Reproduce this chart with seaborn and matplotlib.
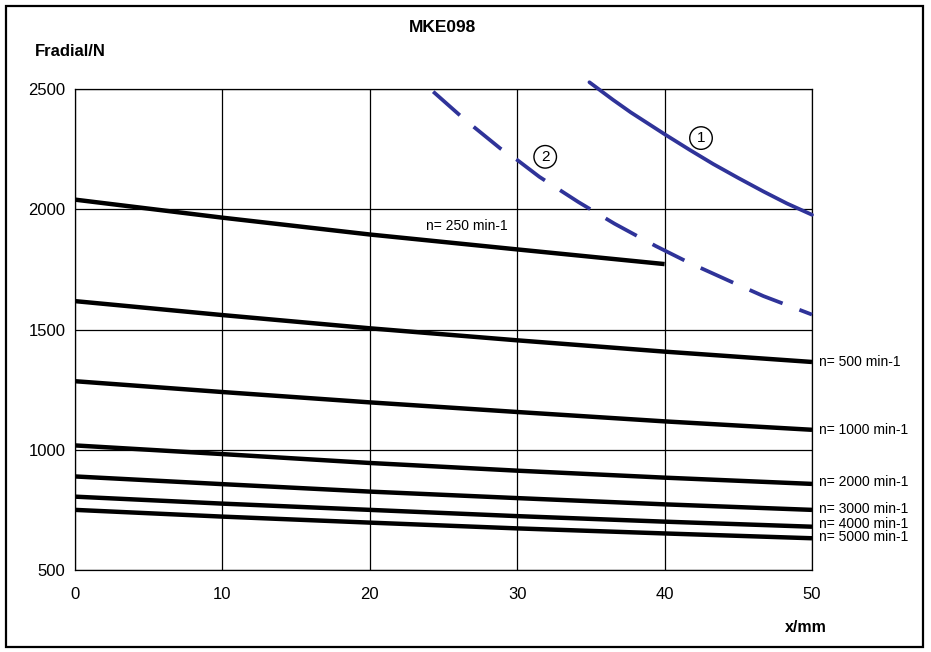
import matplotlib
matplotlib.use("Agg")
import matplotlib.pyplot as plt
import seaborn as sns
import pandas as pd
from matplotlib.patches import Rectangle

# ---- data ----
x_pos = [0, 10, 20, 30, 40, 50]
n250 = [2040, 1965, 1895, 1833, 1772]          # ends at x = 40
n500 = [1618, 1560, 1505, 1455, 1408, 1365]
n1000 = [1285, 1240, 1197, 1157, 1118, 1083]
n2000 = [1018, 982, 945, 913, 884, 858]
n3000 = [889, 857, 826, 799, 773, 750]
n4000 = [805, 776, 750, 724, 701, 680]
n5000 = [750, 722, 697, 673, 652, 632]

limit1_x = [34.9, 36.5, 37.7, 40.0, 41.7, 43.3, 45.0, 46.7, 48.3, 50.0]
limit1_y = [2528, 2455, 2403, 2312, 2247, 2188, 2130, 2074, 2024, 1977]
limit2_x = [24.3, 26.4, 28.85, 30.0, 31.5, 34.15, 36.6, 39.4, 41.65, 44.5, 46.7, 50.0]
limit2_y = [2489, 2375, 2253, 2205, 2135, 2030, 1940, 1847, 1778, 1699, 1639, 1562]

speed_labels = ["n= 250 min-1", "n= 500 min-1", "n= 1000 min-1", "n= 2000 min-1",
                "n= 3000 min-1", "n= 4000 min-1", "n= 5000 min-1"]
x_ticks = [0, 10, 20, 30, 40, 50]
y_ticks = [500, 1000, 1500, 2000, 2500]

# ---- build long table ----
rows = []
for lab, ys in zip(speed_labels, [n250, n500, n1000, n2000, n3000, n4000, n5000]):
    for xv, yv in zip(x_pos[:len(ys)], ys):
        rows.append({"x": xv, "F": yv, "curve": lab})
df = pd.DataFrame(rows)
df1 = pd.DataFrame({"x": limit1_x, "F": limit1_y})
df2 = pd.DataFrame({"x": limit2_x, "F": limit2_y})

sns.set_theme(style="white")
plt.rcParams["font.family"] = ["Liberation Sans", "DejaVu Sans"]
plt.rcParams["text.color"] = "black"

fig = plt.figure(figsize=(9.31, 6.52), dpi=100)
ax = fig.add_axes([75 / 931, 82 / 652, 737 / 931, 481 / 652])

BLUE = "#2f3399"
for lab in speed_labels:
    sub = df[df["curve"] == lab]
    sns.lineplot(data=sub, x="x", y="F", ax=ax, color="black", lw=3.2,
                 solid_capstyle="butt", legend=False, zorder=3)

sns.lineplot(data=df1, x="x", y="F", ax=ax, color=BLUE, lw=2.7,
             legend=False, zorder=4)
ax.lines[-1].set_clip_on(False)
ax.lines[-1].set_solid_joinstyle("round")
sns.lineplot(data=df2, x="x", y="F", ax=ax, color=BLUE, lw=2.7,
             legend=False, zorder=4)
ax.lines[-1].set_linestyle((0, (9.5, 4.8)))
ax.lines[-1].set_dash_capstyle("butt")
ax.lines[-1].set_clip_on(False)

ax.set_xlim(0, 50)
ax.set_ylim(500, 2500)
ax.set_xticks(x_ticks)
ax.set_yticks(y_ticks)
ax.grid(True, color="black", lw=0.9)
for s in ax.spines.values():
    s.set_visible(True)
    s.set_color("black")
    s.set_linewidth(0.9)
ax.tick_params(axis="both", which="major", length=5, width=0.9, color="black",
               labelsize=12, labelcolor="black", direction="out")
ax.tick_params(axis="x", pad=7)
ax.tick_params(axis="y", pad=2)
ax.set_xlabel("")
ax.set_ylabel("")

# labels
ax.text(23.8, 1930, speed_labels[0], fontsize=10, va="center", ha="left")
label_y = [1364, 1083, 864, 753, 692, 639]
for lab, yv in zip(speed_labels[1:], label_y):
    ax.text(50.5, yv, lab, fontsize=10, va="center", ha="left", clip_on=False)

circ = dict(boxstyle="circle,pad=0.28", fc="white", ec="black", lw=1.0)
ax.text(42.47, 2296, "1", fontsize=11, ha="center", va="center", bbox=circ)
ax.text(31.9, 2218, "2", fontsize=11, ha="center", va="center", bbox=circ)

fig.text(443 / 931, 1 - 27 / 652, "MKE098", fontsize=12.5, fontweight="bold",
         ha="center", va="center")
fig.text(35 / 931, 1 - 52 / 652, "Fradial/N", fontsize=12, fontweight="bold",
         ha="left", va="center")
fig.text(785 / 931, 1 - 627 / 652, "x/mm", fontsize=11.5, fontweight="bold",
         ha="left", va="center")

fig.patches.append(Rectangle((6 / 931, 5 / 652), 917 / 931, 641 / 652,
                             transform=fig.transFigure, fill=False,
                             ec="black", lw=1.6))

fig.savefig("out.png", dpi=100, facecolor="white")
